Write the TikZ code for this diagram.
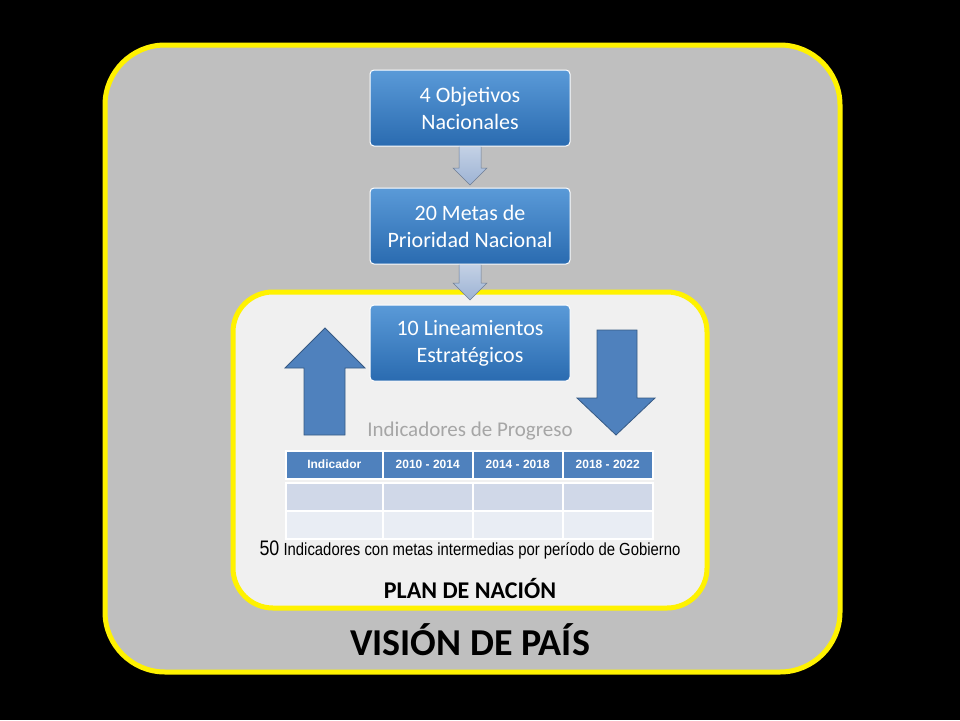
\documentclass[tikz,border=0pt]{standalone}
\usepackage{fontspec}
\setmainfont{Carlito}
\newfontfamily\arialf{Liberation Sans}
\definecolor{bluebox}{HTML}{2A6BB0}
\definecolor{bluetop}{HTML}{5A9AD8}
\definecolor{hdr}{HTML}{4F81BD}
\definecolor{rowa}{HTML}{D0D8E8}
\definecolor{rowb}{HTML}{E9EDF4}
\definecolor{chev}{HTML}{9DB3D4}
\tikzset{
  objbox/.style={rounded corners=4pt,top color=bluetop,bottom color=bluebox,draw=white,line width=1pt,minimum width=200pt,minimum height=76pt,text=white,font=\fontsize{22}{27}\selectfont,align=center},
  bigarrow/.style={fill=hdr,draw=hdr!70!black,line width=0.8pt},
  chevarr/.style={top color=chev!60!white,bottom color=chev,draw=chev!70!black,line width=0.5pt},
  cell/.style={draw=white,line width=1.5pt,minimum height=28pt,anchor=north west,inner sep=0pt,text height=9pt,text depth=1pt,font=\arialf\bfseries\fontsize{12}{14}\selectfont,text=white}
}
\begin{document}
\begin{tikzpicture}[x=1pt,y=-1pt]
\useasboundingbox[fill=black] (0,0) rectangle (960,720);
\draw[yellow,line width=5pt,fill=black!25,rounded corners=60pt] (105,45) rectangle (840,672);
\draw[yellow,line width=5pt,fill=black!6,rounded corners=40pt] (233,292) rectangle (707,608);
\draw[chevarr] (459,146) -- (481,146) -- (481,168) -- (487,168) -- (470,185) -- (453,168) -- (459,168) -- cycle;
\draw[chevarr] (459,264) -- (481,264) -- (481,283) -- (487,283) -- (470,300) -- (453,283) -- (459,283) -- cycle;
\node[objbox] (b1) at (470,108) {4 Objetivos\\Nacionales};
\node[objbox] (b2) at (470,226) {20 Metas de\\Prioridad Nacional};
\node[objbox] (b3) at (470,343) {10 Lineamientos\\Estratégicos};
\draw[bigarrow] (304,435) -- (304,368) -- (285,368) -- (325,328) -- (365,368) -- (345,368) -- (345,435) -- cycle;
\draw[bigarrow] (597,330) -- (637,330) -- (637,398) -- (655,398) -- (616,435) -- (577,398) -- (597,398) -- cycle;
\node[text=black!35,font=\fontsize{21}{25}\selectfont] (ip) at (470,431) {Indicadores de Progreso};
\foreach \x/\w/\t in {285/97/Indicador,382/90/2010 - 2014,472/90/2014 - 2018,562/90/2018 - 2022}{
  \node[cell,fill=hdr,minimum width=\w pt] at (\x,450) {\t};
  \node[cell,fill=rowa,minimum width=\w pt] at (\x,482) {};
  \node[cell,fill=rowb,minimum width=\w pt] at (\x,510) {};
}
\node[xscale=0.85,font=\arialf\fontsize{17.5}{20}\selectfont] (cap) at (470,550) {{\fontsize{21}{23}\selectfont 50} Indicadores con metas intermedias por período de Gobierno};
\node[font=\bfseries\fontsize{24}{28}\selectfont] (pn) at (470,588) {PLAN DE NACIÓN};
\node[font=\bfseries\fontsize{38}{44}\selectfont] (vp) at (470,640) {VISIÓN DE PAÍS};
\end{tikzpicture}
\end{document}
